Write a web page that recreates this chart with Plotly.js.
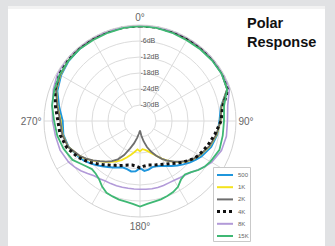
<!DOCTYPE html>
<html><head><meta charset="utf-8">
<script src="https://cdn.plot.ly/plotly-3.0.1.min.js"></script>
<style>html,body{margin:0;padding:0;background:#e1e2e4;}#chart{width:335px;height:246px;}</style>
</head><body><div id="chart"></div>
<script>
// ---- data ----
const angles = [0,10,20,30,40,50,60,70,80,90,100,110,120,125,130,135,140,145,150,155,160,165,170,175,180,185,190,195,200,205,210,215,220,225,230,235,240,250,260,270,280,290,300,310,320,330,340,350,360];
const seriesNames = ['500','1K','2K','4K','8K','15K'];
const db500 = [-0.3,-0.3,-0.4,-0.5,-0.5,-0.5,-0.6,-1.2,-5.2,-6.2,-6.6,-7.6,-9.4,-10.6,-11.7,-13.0,-14.2,-15.4,-16.5,-17.4,-17.9,-18.1,-17.5,-17.2,-18.3,-17.1,-16.8,-17.3,-17.4,-16.8,-15.9,-14.9,-13.9,-12.6,-11.4,-10.2,-9.3,-7.5,-6.8,-7.0,-5.2,-3.0,-1.8,-1.0,-0.7,-0.5,-0.4,-0.3,-0.3];
const db1k = [-0.3,-0.3,-0.4,-0.4,-0.4,-0.4,-0.5,-1.2,-5.0,-5.8,-6.8,-8.2,-10.2,-11.3,-12.6,-14.3,-16.0,-17.8,-19.7,-21.6,-23.0,-24.2,-25.0,-25.4,-24.6,-25.3,-24.2,-22.9,-21.4,-19.8,-18.5,-17.3,-16.0,-14.6,-12.9,-11.3,-9.8,-7.4,-6.5,-6.3,-4.6,-2.6,-1.5,-0.8,-0.5,-0.4,-0.4,-0.3,-0.3];
const db2k = [-0.3,-0.3,-0.4,-0.4,-0.4,-0.4,-0.5,-1.2,-5.0,-5.8,-6.9,-8.3,-10.3,-11.4,-12.8,-14.4,-16.1,-17.8,-19.6,-21.6,-23.7,-25.9,-28.3,-30.6,-32.4,-31.2,-29.5,-27.3,-25.0,-21.9,-19.4,-17.6,-16.1,-14.7,-13.0,-11.4,-9.9,-7.4,-6.4,-6.1,-4.5,-2.5,-1.4,-0.8,-0.5,-0.4,-0.4,-0.3,-0.3];
const db4k = [-0.3,-0.3,-0.3,-0.3,-0.2,0,0,-0.6,-4.5,-5.6,-7.5,-9.0,-10.5,-11.4,-12.8,-14.0,-15.3,-16.5,-17.3,-18.0,-18.5,-18.9,-19.2,-19.0,-18.4,-19.0,-19.2,-18.9,-18.3,-17.6,-16.8,-15.8,-14.6,-13.3,-11.8,-10.4,-9.0,-6.8,-5.6,-5.2,-3.8,-2.0,-0.8,-0.2,0,0,-0.2,-0.3,-0.3];
const db8k = [-0.2,-0.1,0,0,0,0,0,-0.3,-2.6,-3.2,-3.1,-3.5,-5.0,-6.3,-7.6,-8.8,-9.6,-10.0,-10.3,-10.4,-10.3,-10.2,-10.2,-10.3,-10.4,-10.4,-10.4,-10.3,-10.2,-10.1,-10.0,-9.6,-9.2,-8.2,-7.0,-6.0,-5.1,-4.1,-3.8,-3.2,-2.6,-1.4,-0.3,0,0,0,-0.1,-0.2,-0.2];
const db15k = [-0.4,-0.5,-0.8,-1.0,-0.9,-0.7,-0.6,-1.2,-4.0,-4.5,-4.5,-4.3,-5.5,-6.3,-7.4,-8.9,-9.8,-9.2,-7.5,-6.6,-6.1,-5.6,-5.3,-4.8,-3.9,-4.8,-5.3,-5.5,-5.9,-6.3,-7.6,-9.3,-10.2,-10.5,-9.6,-8.4,-6.8,-5.5,-4.5,-3.8,-2.5,-1.8,-1.2,-0.9,-0.8,-0.9,-0.8,-0.5,-0.4];
const radialTicks = [-30,-24,-18,-12,-6];
const radialTickText = ['-30dB','-24dB','-18dB','-12dB','-6dB'];
const angleTicks = [0,90,180,270];
const angleTickText = ['0°','90°','180°','270°'];

// ---- styles ----
const seriesValues = [db500, db1k, db2k, db4k, db8k, db15k];
const seriesColors = ['#1f96dc','#f4e31c','#6e6e6e','#111111','#b29ad8','#3fb874'];
const seriesWidths = [2, 1.8, 1.8, 3, 1.6, 1.8];
const seriesDash = ['solid','solid','solid','dot','solid','solid'];
const W = 335, H = 246;
const px = x => x / W, py = y => 1 - y / H;
const gridCol = '#dcdcdc';

const traces = [];
for (let a = 0; a < 360; a += 30) {
  traces.push({type:'scatterpolar', r:[-30,0], theta:[a,a], mode:'lines',
    line:{color:gridCol, width:1}, hoverinfo:'skip', showlegend:false});
}
seriesNames.forEach((n,i) => {
  traces.push({type:'scatterpolar', name:n, r:seriesValues[i], theta:angles, mode:'lines',
    line:{color:seriesColors[i], width:seriesWidths[i], dash:seriesDash[i]}, showlegend:false});
});

// custom compact legend
const shapes = [
  {type:'rect', xref:'paper', yref:'paper', x0:px(8), x1:px(325), y0:0, y1:py(6), fillcolor:'#ffffff', line:{width:0}, layer:'below'},
  {type:'rect', xref:'paper', yref:'paper', x0:px(8), x1:px(325), y0:py(9), y1:py(6), fillcolor:'#f2f2f2', line:{width:0}, layer:'below'},
  {type:'rect', xref:'paper', yref:'paper', x0:px(213.5), x1:px(250.5), y0:py(241.5), y1:py(167.5), fillcolor:'#ffffff', line:{color:'#c9c9c9', width:1}, layer:'above'}
];
const annotations = [];
seriesNames.forEach((n,i) => {
  const yy = 175 + i*12.2;
  shapes.push({type:'line', xref:'paper', yref:'paper', x0:px(217), x1:px(233), y0:py(yy), y1:py(yy),
    line:{color:seriesColors[i], width:seriesWidths[i]===3?3:2, dash:seriesDash[i]}, layer:'above'});
  annotations.push({xref:'paper', yref:'paper', x:px(236), y:py(yy), text:n, showarrow:false,
    xanchor:'left', yanchor:'middle', font:{size:6, color:'#666', family:'Liberation Sans, Arial'}});
});

const layout = {
  width:W, height:H, margin:{l:0,r:0,t:0,b:0},
  paper_bgcolor:'#e1e2e4',
  font:{family:'Liberation Sans, Arial, sans-serif', color:'#555'},
  showlegend:false,
  title:{text:'<b>Polar</b><br><b>Response</b>', x:px(247), xanchor:'left', xref:'paper',
    y:py(28), yanchor:'top', yref:'paper', font:{size:14.5, color:'#111', family:'Liberation Sans, Arial'}},
  polar:{
    domain:{x:[px(44), px(236)], y:[py(217), py(25)]},
    bgcolor:'#ffffff',
    angularaxis:{rotation:90, direction:'clockwise', tickvals:angleTicks, ticktext:angleTickText,
      showgrid:false, showline:true, linecolor:'#d3d3d3', linewidth:1, ticks:'',
      tickfont:{size:10, color:'#666'}},
    radialaxis:{range:[-36,0], tickvals:radialTicks, ticktext:radialTickText, showgrid:true,
      gridcolor:gridCol, showline:false, ticks:'', angle:90, side:'clockwise', tickangle:90,
      layer:'below traces', tickfont:{size:7, color:'#555'}}
  },
  shapes:shapes, annotations:annotations
};
Plotly.newPlot('chart', traces, layout, {displayModeBar:false, staticPlot:true});
</script>
</body></html>
